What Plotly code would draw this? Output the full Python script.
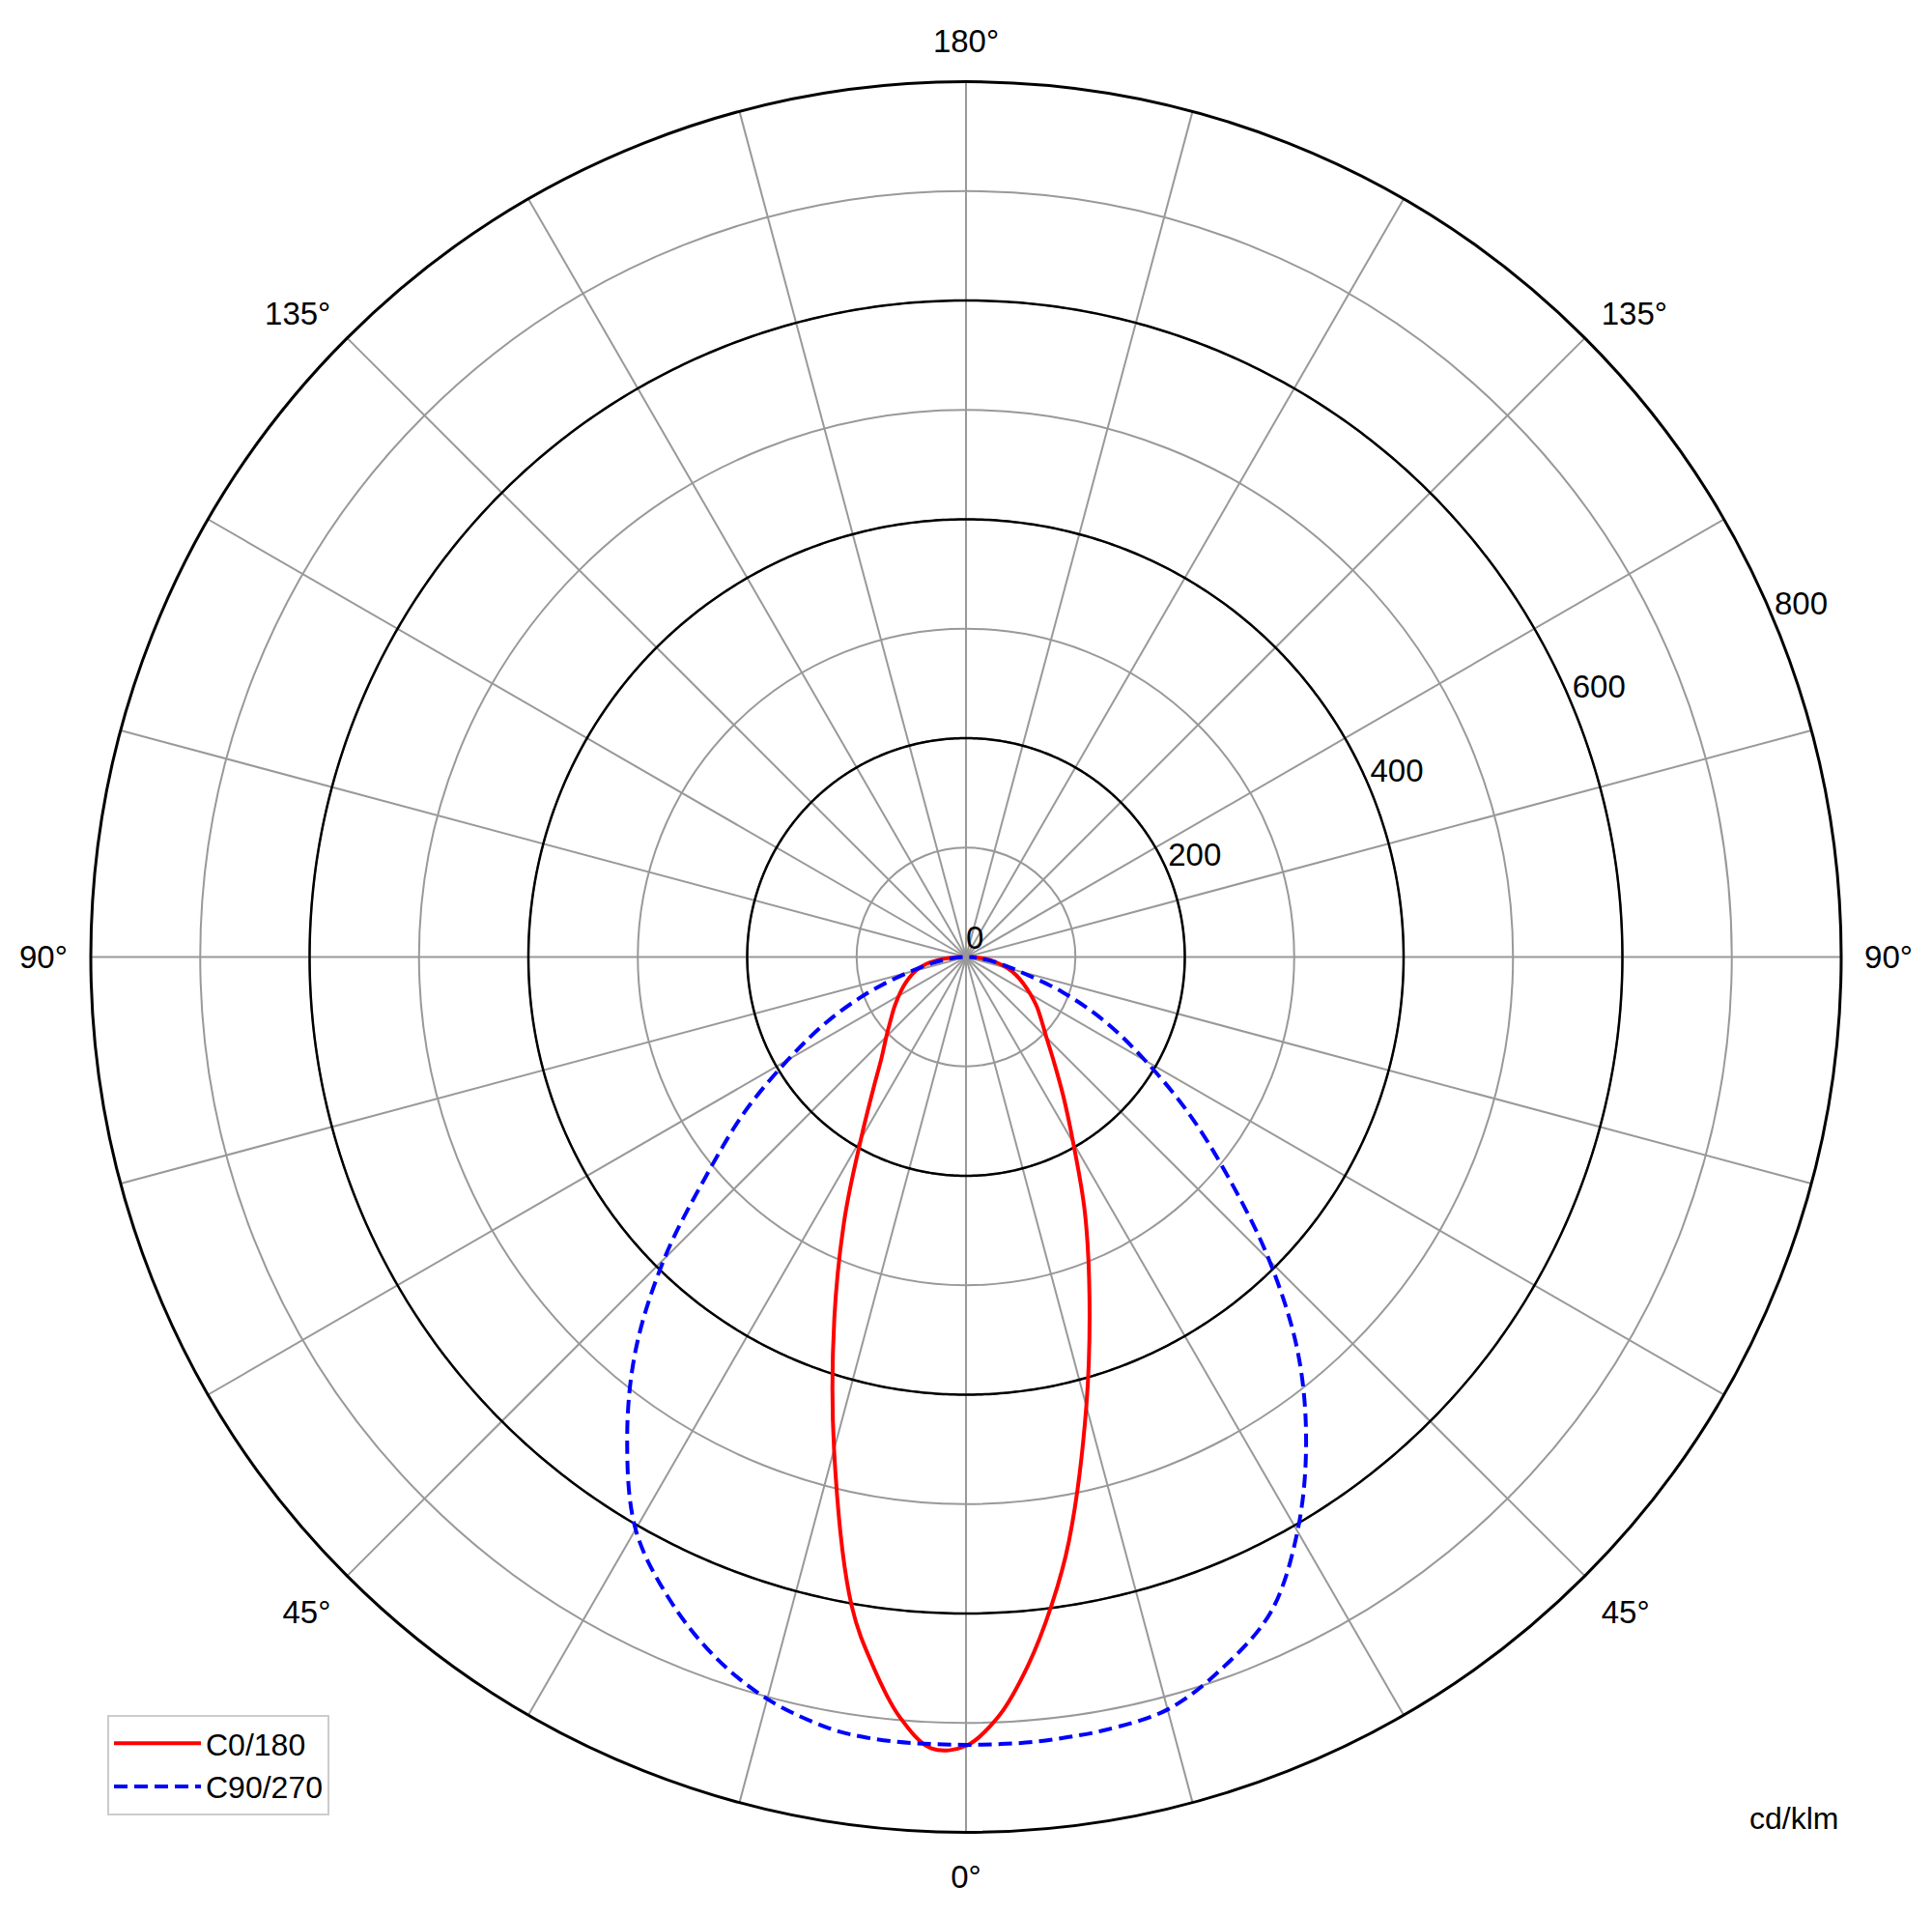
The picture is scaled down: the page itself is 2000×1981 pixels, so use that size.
import numpy as np
import plotly.graph_objects as go

# ---- data (cd/klm) ----
gamma = [0, 2.5, 5, 7.5, 10, 15, 20, 25, 30, 35, 40, 45, 50, 55, 60, 65, 70, 75, 80, 85, 90]
c0 = [721, 694, 650, 598, 542, 425, 330, 257, 196, 155, 125, 104, 90, 79, 68, 58, 49, 39, 28, 16, 5]
c180 = [721, 724, 697, 653, 602, 466, 352, 262, 192, 148, 120, 103, 90, 80, 71, 63, 55, 47, 37, 22, 5]
c90 = [720, 720, 720, 719, 718, 712, 690, 660, 606, 542, 472, 392, 313, 248, 189, 141, 94, 50, 28, 12, 3]
c270 = [720, 720, 720, 719, 716, 702, 678, 645, 604, 540, 470, 390, 309, 247, 188, 140, 95, 55, 30, 13, 3]

r_ticks = [0, 200, 400, 600, 800]
r_major = [200, 400, 600]
ang_ticks = list(range(0, 360, 15))
ang_label_set = [0, 45, 90, 135, 180]
label_angle = 112.5
unit_text = "cd/klm"

FONT = "Liberation Sans"


def ang_text(a):
    g = a if a <= 180 else 360 - a
    return f"{g}°" if g in ang_label_set else ""


def both_sides(left, right):
    th = [-g for g in reversed(gamma)] + gamma[1:]
    rr = list(reversed(left)) + right[1:]
    return th, rr


fig = go.Figure()

circ_theta = np.linspace(0, 360, 721)
for rv in r_major:
    fig.add_trace(go.Scatterpolar(
        r=[rv] * len(circ_theta), theta=circ_theta, mode="lines",
        line=dict(color="black", width=2.5), showlegend=False, hoverinfo="skip"))

th, rr = both_sides(c180, c0)
fig.add_trace(go.Scatterpolar(
    r=rr, theta=th, mode="lines", name="C0/180",
    line=dict(color="#ff0000", width=4, shape="spline")))

th, rr = both_sides(c270, c90)
fig.add_trace(go.Scatterpolar(
    r=rr, theta=th, mode="lines", name="C90/270",
    line=dict(color="#0000ff", width=4, dash="14px,7px", shape="spline")))

fig.add_trace(go.Scatterpolar(
    r=r_ticks, theta=[label_angle] * len(r_ticks), mode="text",
    text=[str(v) for v in r_ticks], textposition="top right",
    textfont=dict(family=FONT, size=33, color="black"),
    cliponaxis=False, showlegend=False, hoverinfo="skip"))

W, H = 2000, 1981
cx, cy, R = 1000, 990.5, 906
fig.update_layout(
    width=W, height=H,
    margin=dict(l=0, r=0, t=0, b=0),
    paper_bgcolor="white",
    font=dict(family=FONT, size=30, color="black"),
    polar=dict(
        domain=dict(x=[(cx - R) / W, (cx + R) / W],
                    y=[(H - cy - R) / H, (H - cy + R) / H]),
        bgcolor="white",
        angularaxis=dict(
            rotation=-90, direction="counterclockwise",
            tickmode="array", tickvals=ang_ticks,
            ticktext=[ang_text(a) for a in ang_ticks],
            ticks="outside", ticklen=16, tickcolor="rgba(0,0,0,0)",
            showline=True, linecolor="black", linewidth=3,
            gridcolor="#999999", gridwidth=1.5,
            tickfont=dict(family=FONT, size=33, color="black"),
        ),
        radialaxis=dict(
            range=[0, 800], tickmode="linear", tick0=0, dtick=100,
            showticklabels=False, ticks="", showline=False,
            gridcolor="#999999", gridwidth=1.5,
        ),
    ),
    legend=dict(
        x=111 / W, y=1 - 1775 / H, xanchor="left", yanchor="top",
        bordercolor="#cccccc", borderwidth=2, bgcolor="white",
        itemwidth=90,
        font=dict(family=FONT, size=32, color="black"),
    ),
    annotations=[dict(
        text=unit_text, x=1905 / W, y=1 - 1882 / H, xref="paper", yref="paper",
        xanchor="right", yanchor="middle", showarrow=False,
        font=dict(family=FONT, size=32, color="black"))],
)

fig.write_html("out.html", config={"displayModeBar": False},
               post_script="document.body.style.margin='0';")
